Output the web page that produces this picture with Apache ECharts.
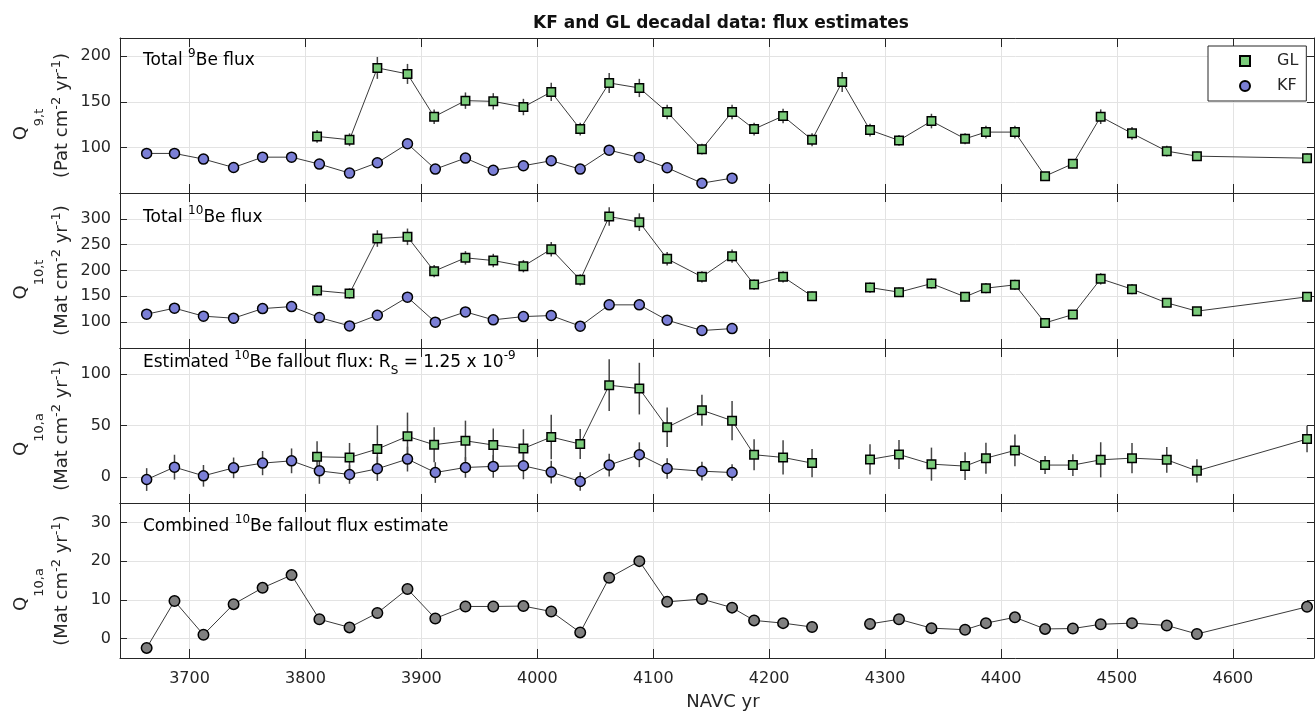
<!DOCTYPE html>
<html><head><meta charset="utf-8">
<script src="https://cdn.jsdelivr.net/npm/echarts@6/dist/echarts.min.js"></script>
<style>html,body{margin:0;padding:0;background:#fff}#c{width:1315px;height:713px}</style>
</head><body><div id="c"></div>
<script>
// ---------- data ----------
const yearsKF = [3663, 3687, 3712, 3738, 3763, 3788, 3812, 3838, 3862, 3888, 3912, 3938, 3962, 3988, 4012, 4037, 4062, 4088, 4112, 4142, 4168];
const yearsGL = [3810, 3838, 3862, 3888, 3911, 3938, 3962, 3988, 4012, 4037, 4062, 4088, 4112, 4142, 4168, 4187, 4212, 4237, 4263, 4287, 4312, 4340, 4369, 4387, 4412, 4438, 4462, 4486, 4513, 4543, 4569, 4664];
const yearsComb = [3663, 3687, 3712, 3738, 3763, 3788, 3812, 3838, 3862, 3888, 3912, 3938, 3962, 3988, 4012, 4037, 4062, 4088, 4112, 4142, 4168, 4187, 4212, 4237, 4263, 4287, 4312, 4340, 4369, 4387, 4412, 4438, 4462, 4486, 4513, 4543, 4569, 4664];

// Total 9Be flux (Pat cm-2 yr-1)
const kfQ9 = [93.4, 93.4, 87.2, 78, 89.3, 89.3, 81.7, 71.8, 83.2, 104, 76.2, 88.3, 75, 79.9, 85.4, 76.2, 97, 89, 77.7, 60.8, 66.3];
const kfQ9Err = [3, 3, 3, 3, 3, 3, 3, 3, 3, 4, 3, 3, 3, 3, 3, 3, 4, 3, 3, 3, 3];
const glQ9 = [112.1, 108.4, 187.2, 180.6, 133.7, 151.3, 150.5, 144.3, 160.8, 120.1, 170.7, 165.2, 138.8, 98.1, 138.8, 120.1, 134.4, 108.4, 171.8, 119, 107.7, 128.9, 109.5, 116.8, 116.8, 68.5, 82.1, 133.7, 115.4, 95.9, 90.4, 88.2];
const glQ9Err = [7, 7, 12, 11, 8, 9, 9, 9, 10, 7, 11, 10, 8, 6, 8, 7, 8, 7, 11, 7, 6, 8, 6, 7, 7, 4, 5, 8, 7, 6, 5, 5];

// Total 10Be flux (Mat cm-2 yr-1)
const kfQ10 = [115.5, 127.1, 111.6, 107.7, 126.3, 130.2, 108.9, 92.8, 113.5, 148.4, 100, 119.9, 104.5, 110.8, 112.8, 92.3, 133.5, 133.5, 103.9, 83.8, 87.6];
const kfQ10Err = [5, 5, 5, 5, 5, 5, 5, 4, 5, 6, 4, 5, 4, 5, 5, 4, 6, 6, 4, 4, 4];
const glQ10 = [161.2, 155.4, 261.9, 265.2, 198.7, 224.5, 219.3, 208.4, 241.3, 181.9, 304.5, 293.6, 222.6, 187.7, 227.8, 172.8, 187.7, 150.3, null, 167, 158.1, 174.7, 149, 165.8, 172.2, 98.6, 114.7, 183.8, 163.9, 137.4, 121.3, 149];
const glQ10Err = [10, 10, 16, 16, 12, 13, 13, 12, 14, 11, 18, 17, 13, 11, 13, 10, 11, 9, null, 10, 9, 10, 9, 10, 10, 6, 7, 11, 10, 8, 7, 9];

// Estimated 10Be fallout flux (Mat cm-2 yr-1)
const kfQ10a = [-2.3, 9.7, 1.3, 9, 13.6, 15.8, 6.1, 2.6, 8.1, 17.5, 4.5, 9.4, 10.4, 11, 4.9, -4.2, 11.7, 21.7, 8.4, 5.8, 4.5];
const kfQ10aErr = [11, 12, 10.5, 10, 11.7, 12, 12.5, 9, 11.7, 12, 10, 10, 11, 13, 11, 9, 11, 12, 10, 9, 8];
const glQ10a = [19.7, 19.1, 27.2, 39.5, 31.4, 35.2, 31.1, 27.8, 38.8, 32, 89, 85.7, 48.3, 64.8, 54.7, 21.7, 19.1, 13.6, null, 17.2, 22, 12.6, 10.7, 18.4, 25.9, 11.7, 11.7, 16.8, 18.4, 16.8, 6.1, 36.9];
const glQ10aErr = [15, 14, 23, 23, 17, 19.5, 16, 18.6, 21.5, 14.5, 25, 25, 19, 15, 19, 15, 16.6, 13.6, null, 14.6, 14, 16, 13.5, 15, 15.3, 8.7, 10.5, 17, 14.7, 12.5, 11.3, 12.8];

// Combined 10Be fallout flux estimate
const combQ10a = [-2.4, 9.7, 1, 8.9, 13.1, 16.4, 5, 2.9, 6.6, 12.8, 5.2, 8.3, 8.3, 8.4, 7, 1.6, 15.7, 20, 9.5, 10.2, 8, 4.7, 4, 3, null, 3.8, 5, 2.7, 2.3, 4, 5.5, 2.5, 2.6, 3.7, 4, 3.4, 1.2, 8.2];

// ---------- styling ----------
const FONT = 'DejaVu Sans';
const TXT = '#262626';
const AXC = '#262626';
const GRIDC = '#e3e3e3';
const GL_COLOR = '#7acb7a', KF_COLOR = '#7b7fd6', COMB_COLOR = '#808080';
const LINE_C = '#3a3a3a';
const XMIN = 3640, XMAX = 4670;

const nameRich = {
  q:  {fontFamily: FONT, fontSize: 18, height: 20, lineHeight: 20, verticalAlign: 'top', color: TXT},
  sb: {fontFamily: FONT, fontSize: 13, height: 22, lineHeight: 22, verticalAlign: 'bottom', color: TXT},
  sp: {fontFamily: FONT, fontSize: 12, height: 40, lineHeight: 40, width: 18, color: TXT},
  m:  {fontFamily: FONT, fontSize: 18, height: 22, lineHeight: 22, verticalAlign: 'top', color: TXT},
  su: {fontFamily: FONT, fontSize: 13, height: 12, lineHeight: 12, verticalAlign: 'top', color: TXT}
};
const annRich = {
  a:   {fontFamily: FONT, fontSize: 17, height: 28, lineHeight: 28, verticalAlign: 'top', color: '#111'},
  sup: {fontFamily: FONT, fontSize: 12, height: 13, lineHeight: 13, verticalAlign: 'top', color: '#111'},
  sub: {fontFamily: FONT, fontSize: 12, height: 44, lineHeight: 44, verticalAlign: 'top', color: '#111'}
};

const panels = [
  {top: 38, min: 50, max: 220, split: 3,
   name: '{q|Q}{sb|9,t}{sp| }\n{m|(Pat cm}{su|-2}{m| yr}{su|-1}{m|)}',
   ann: '{a|Total }{sup|9}{a|Be flux}', annTop: 47,
   kf: kfQ9, kfErr: kfQ9Err, gl: glQ9, glErr: glQ9Err},
  {top: 193, min: 50, max: 350, split: 6,
   name: '{q|Q}{sb|10,t}{sp| }\n{m|(Mat cm}{su|-2}{m| yr}{su|-1}{m|)}',
   ann: '{a|Total }{sup|10}{a|Be flux}', annTop: 204,
   kf: kfQ10, kfErr: kfQ10Err, gl: glQ10, glErr: glQ10Err},
  {top: 348, min: -25, max: 125, split: 3,
   name: '{q|Q}{sb|10,a}{sp| }\n{m|(Mat cm}{su|-2}{m| yr}{su|-1}{m|)}',
   ann: '{a|Estimated }{sup|10}{a|Be fallout flux: R}{sub|S}{a| = 1.25 x 10}{sup|-9}', annTop: 349,
   kf: kfQ10a, kfErr: kfQ10aErr, gl: glQ10a, glErr: glQ10aErr},
  {top: 503, min: -5, max: 35, split: 4,
   name: '{q|Q}{sb|10,a}{sp| }\n{m|(Mat cm}{su|-2}{m| yr}{su|-1}{m|)}',
   ann: '{a|Combined }{sup|10}{a|Be fallout flux estimate}', annTop: 513,
   comb: combQ10a}
];
const PH = 155;

const pairs = (xs, ys) => xs.map((x, i) => [x, ys[i] == null ? '-' : ys[i]]);

function errSeries(idx, xs, ys, es, color, width) {
  const data = [];
  xs.forEach((x, i) => { if (ys[i] != null) data.push([x, ys[i] - es[i], ys[i] + es[i]]); });
  return {
    type: 'custom', xAxisIndex: idx, yAxisIndex: idx, z: 2, silent: true,
    data: data, encode: {x: 0, y: [1, 2]},
    renderItem: (params, api) => {
      const lo = api.coord([api.value(0), api.value(1)]);
      const hi = api.coord([api.value(0), api.value(2)]);
      return {type: 'line', shape: {x1: lo[0], y1: lo[1], x2: hi[0], y2: hi[1]},
              style: {stroke: color, lineWidth: width}};
    }
  };
}
function lineSeries(idx, xs, ys, nm) {
  return {type: 'line', name: nm + '_line', xAxisIndex: idx, yAxisIndex: idx, z: 3, silent: true,
    data: pairs(xs, ys), symbol: 'none', connectNulls: false,
    lineStyle: {color: LINE_C, width: 1}};
}
function markSeries(idx, xs, ys, nm, symbol, size, color) {
  return {type: 'scatter', name: nm, xAxisIndex: idx, yAxisIndex: idx, z: 4,
    data: pairs(xs, ys).filter(p => p[1] !== '-'), symbol: symbol, symbolSize: size,
    itemStyle: {color: color, borderColor: '#000', borderWidth: 1.5, opacity: 1}};
}

const grids = [], xAxes = [], yAxes = [], series = [], graphics = [];
panels.forEach((p, i) => {
  grids.push({left: 120, right: 1, top: p.top, height: PH, outerBoundsMode: 'none', containLabel: false});
  const last = i === panels.length - 1;
  xAxes.push({
    gridIndex: i, type: 'value', min: XMIN, max: XMAX, splitNumber: 10, position: 'bottom',
    axisLine: {show: true, onZero: false, lineStyle: {color: AXC, width: 1}},
    axisTick: {show: true, inside: true, length: 9, lineStyle: {color: AXC}},
    axisLabel: {show: last, fontFamily: FONT, fontSize: 16, color: TXT, margin: 13,
      showMinLabel: false, showMaxLabel: false, formatter: v => String(v)},
    splitLine: {show: true, lineStyle: {color: GRIDC, width: 1}},
    name: last ? 'NAVC yr' : '', nameLocation: 'middle', nameGap: 35,
    nameTextStyle: {fontFamily: FONT, fontSize: 18, color: TXT, padding: [0, 0, 0, 12]}
  });
  yAxes.push({
    gridIndex: i, type: 'value', min: p.min, max: p.max, splitNumber: p.split, position: 'left',
    axisLine: {show: true, onZero: false, lineStyle: {color: AXC, width: 1}},
    axisTick: {show: true, inside: true, length: 7, lineStyle: {color: AXC}},
    axisLabel: {fontFamily: FONT, fontSize: 16, color: TXT, margin: 9, showMinLabel: false, showMaxLabel: false},
    splitLine: {show: true, lineStyle: {color: GRIDC, width: 1}},
    name: p.name, nameLocation: 'middle', nameGap: 47, nameMoveOverlap: false,
    nameTextStyle: {rich: nameRich}
  });
  graphics.push({type: 'text', left: 143, top: p.annTop, z: 10, silent: true,
    style: {text: p.ann, rich: annRich}});
});
// top / right companion axes for the box ticks
panels.forEach((p, i) => {
  xAxes.push({
    gridIndex: i, type: 'value', min: XMIN, max: XMAX, splitNumber: 10, position: 'top',
    axisLine: {show: true, onZero: false, lineStyle: {color: AXC, width: 1}},
    axisTick: {show: true, inside: true, length: 9, lineStyle: {color: AXC}},
    axisLabel: {show: false}, splitLine: {show: false}
  });
  yAxes.push({
    gridIndex: i, type: 'value', min: p.min, max: p.max, splitNumber: p.split, position: 'right',
    axisLine: {show: true, onZero: false, lineStyle: {color: AXC, width: 1}},
    axisTick: {show: true, inside: true, length: 7, lineStyle: {color: AXC}},
    axisLabel: {show: false}, splitLine: {show: false}
  });
});

panels.forEach((p, i) => {
  if (p.comb) {
    series.push(lineSeries(i, yearsComb, p.comb, 'Combined'));
    series.push(markSeries(i, yearsComb, p.comb, 'Combined', 'circle', 10.5, COMB_COLOR));
  } else {
    series.push(errSeries(i, yearsGL, p.gl, p.glErr, '#444', 1.5));
    series.push(errSeries(i, yearsKF, p.kf, p.kfErr, '#444', 1.5));
    series.push(lineSeries(i, yearsGL, p.gl, 'GL'));
    series.push(lineSeries(i, yearsKF, p.kf, 'KF'));
    series.push(markSeries(i, yearsGL, p.gl, 'GL', 'rect', 8.5, GL_COLOR));
    series.push(markSeries(i, yearsKF, p.kf, 'KF', 'circle', 10, KF_COLOR));
  }
});

const chart = echarts.init(document.getElementById('c'), null, {renderer: 'canvas'});
chart.setOption({
  animation: false,
  backgroundColor: '#fff',
  title: {text: 'KF and GL decadal data: flux estimates', left: 716, top: 10, textAlign: 'center',
    textStyle: {fontFamily: FONT, fontSize: 17, fontWeight: 'bold', color: '#111'}},
  legend: {
    data: [{name: 'GL', icon: 'rect'}, {name: 'KF', icon: 'circle'}],
    orient: 'vertical', left: 1208, top: 46, padding: [7, 8, 7, 31], itemGap: 9,
    itemWidth: 10, itemHeight: 10, backgroundColor: '#fff', borderColor: AXC, borderWidth: 1,
    textStyle: {fontFamily: FONT, fontSize: 16, color: TXT, padding: [0, 0, 0, 22]},
    selectedMode: false
  },
  grid: grids, xAxis: xAxes, yAxis: yAxes, series: series, graphic: graphics
});
</script></body></html>
